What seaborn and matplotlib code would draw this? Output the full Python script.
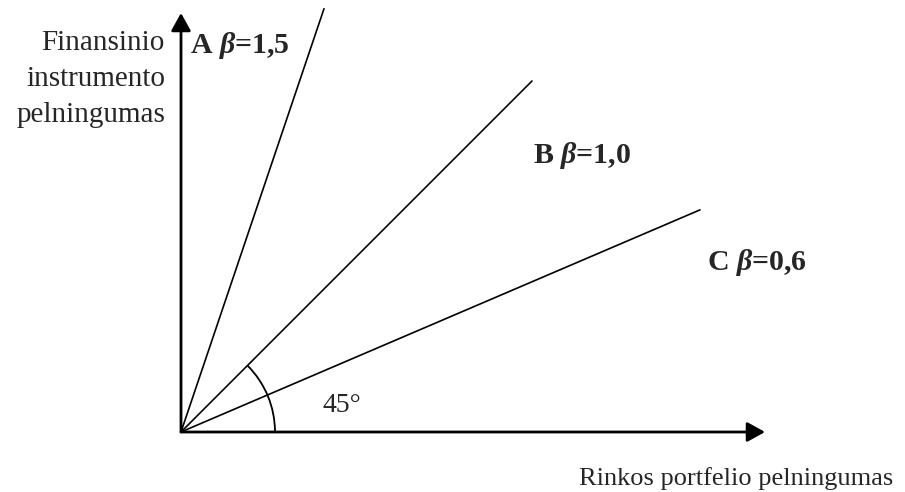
import pandas as pd
import matplotlib.pyplot as plt
import seaborn as sns
from matplotlib.patches import Arc

# three securities: label, drawn slope, end of line along the x axis (px)
names = ['A', 'B', 'C']
beta_labels = ['1,5', '1,0', '0,6']
slopes = [2.96, 1.0, 0.428]
x_end = [143, 351, 519]

sns.set_theme(style='white')
plt.rcParams['font.family'] = ['Liberation Serif', 'DejaVu Serif']
plt.rcParams['mathtext.fontset'] = 'custom'
plt.rcParams['mathtext.it'] = 'Liberation Serif:italic:bold'
plt.rcParams['mathtext.rm'] = 'Liberation Serif:bold'

rows = []
for n, s, xe in zip(names, slopes, x_end):
    rows.append({'line': n, 'x': 0, 'y': 0})
    rows.append({'line': n, 'x': xe, 'y': s * xe})
df = pd.DataFrame(rows)

fig = plt.figure(figsize=(9.05, 4.92), dpi=100)
ax = fig.add_axes([0, 0, 1, 1])
ax.set_xlim(-181, 905 - 181)
ax.set_ylim(-(492 - 432), 432)
ax.axis('off')

sns.lineplot(data=df, x='x', y='y', hue='line', palette=['black'] * 3,
             linewidth=1.2, legend=False, ax=ax)

# axes with arrow heads
arrow = dict(arrowstyle='-|>,head_length=0.45,head_width=0.25', mutation_scale=24,
             color='black', lw=2, shrinkA=0, shrinkB=0)
ax.annotate('', xy=(0, 419), xytext=(0, 0), arrowprops=arrow)
ax.annotate('', xy=(584, 0), xytext=(0, 0), arrowprops=arrow)

# 45 degree arc
ax.add_patch(Arc((0, 0), 188, 188, theta1=0, theta2=45, color='black', lw=1.3))
ax.text(141, 20, '45°', fontsize=20, ha='left', va='baseline')

# line labels
label_pos = [(9, 379), (352, 269), (526, 162)]
for n, b, (tx, ty) in zip(names, beta_labels, label_pos):
    ax.text(tx, ty, n + r' $\beta$=' + b, fontsize=21.5, fontweight='bold',
            ha='left', va='baseline')

ax.text(-16, 310, 'Finansinio\ninstrumento\npelningumas', fontsize=21,
        ha='right', va='baseline', multialignment='right', linespacing=1.5)
ax.text(712, -53, 'Rinkos portfelio pelningumas', fontsize=19,
        ha='right', va='baseline')

fig.savefig('out.png', dpi=100)
plt.close()
